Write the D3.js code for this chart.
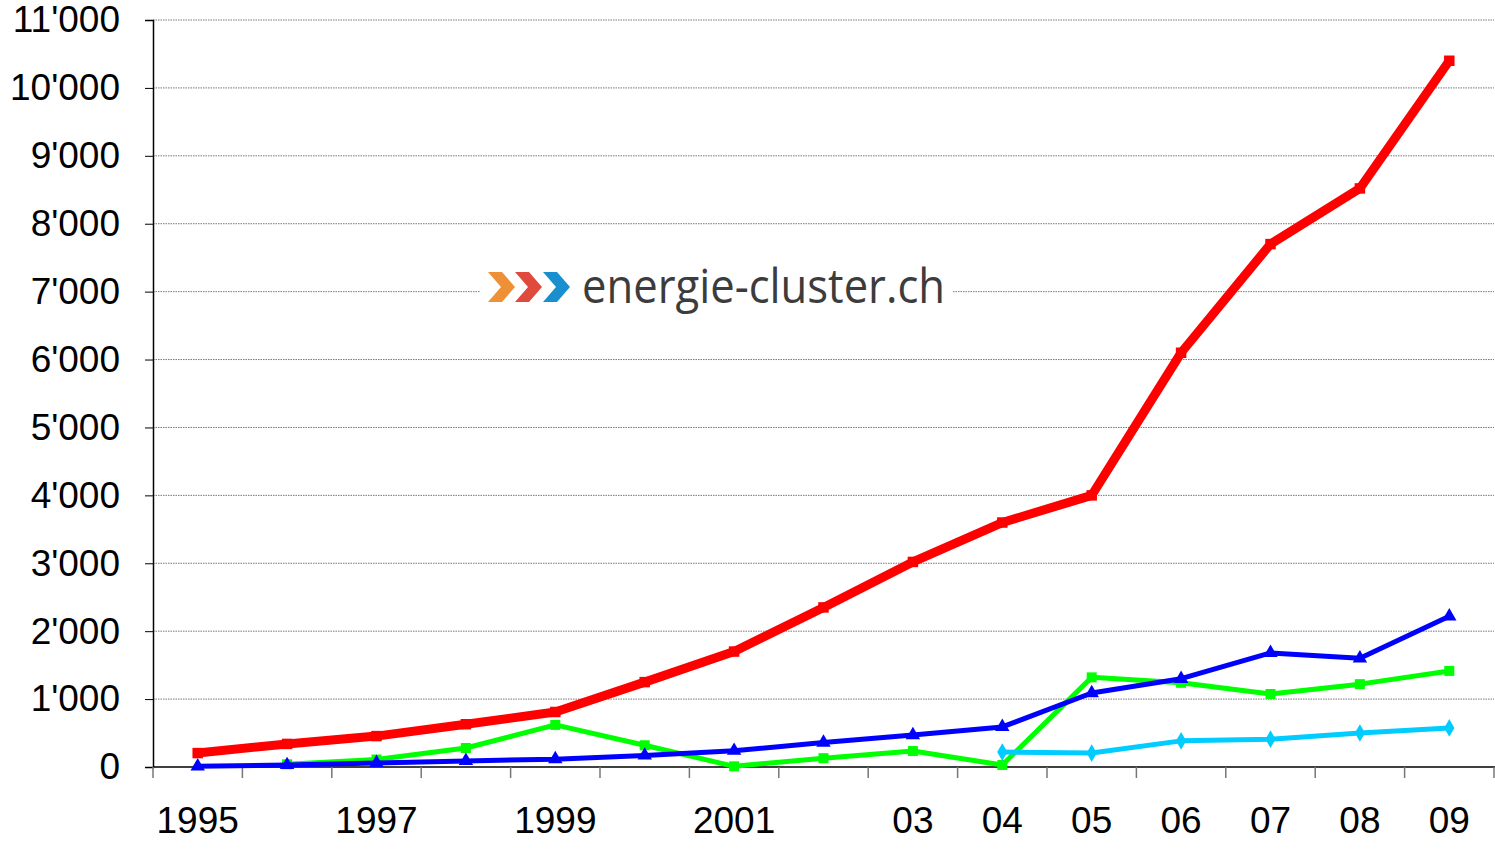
<!DOCTYPE html>
<html><head><meta charset="utf-8">
<script src="https://cdn.jsdelivr.net/npm/d3@7"></script>
<style>body{margin:0;background:#fff;} svg{display:block;}</style>
</head><body>
<svg id="c" width="1495" height="850"></svg>
<script>
const years = [1995,1996,1997,1998,1999,2000,2001,2002,2003,2004,2005,2006,2007,2008,2009];
const yearLabels = ["1995","","1997","","1999","","2001","","03","04","05","06","07","08","09"];
const yTicks = [0,1000,2000,3000,4000,5000,6000,7000,8000,9000,10000,11000];
const redValues   = [205,340,455,630,810,1250,1700,2350,3020,3600,4000,6100,7700,8520,10400];
const blueValues  = [10,30,60,90,115,170,240,360,470,590,1090,1300,1680,1600,2220];
const greenValues = [null,40,110,280,620,320,10,130,235,30,1320,1240,1075,1220,1415];
const cyanValues  = [null,null,null,null,null,null,null,null,null,220,205,385,410,500,575];

const svg = d3.select("#c");
const L = 153, R = 1494, T = 20, B = 767;
const x = d3.scaleBand().domain(years).range([L, R]);
const y = d3.scaleLinear().domain([0, 11000]).range([B, T]);
const fmt = v => d3.format(",")(v).replace(/,/g, "'");

// gridlines
svg.append("g").selectAll("line").data(yTicks.filter(d => d > 0)).join("line")
  .attr("x1", L).attr("x2", R).attr("y1", d => y(d)).attr("y2", d => y(d))
  .attr("stroke", "#777").attr("stroke-width", 1).attr("stroke-dasharray", "1.5,1");

// logo background + logo
const logo = svg.append("g");
logo.append("rect").attr("x", 480).attr("y", 262).attr("width", 472).attr("height", 58).attr("fill", "#fff");
const chev = (x0, col) => {
  const w = 27, h = 30, t = 14, yc = 287;
  logo.append("path")
    .attr("d", `M${x0},${yc-h/2} L${x0+t},${yc-h/2} L${x0+w},${yc} L${x0+t},${yc+h/2} L${x0},${yc+h/2} L${x0+w-t},${yc} Z`)
    .attr("fill", col);
};
chev(488, "#EE9035");
chev(515, "#E04A3C");
chev(543, "#1A8FD0");
logo.append("text").attr("x", 582).attr("y", 303).text("energie-cluster.ch")
  .attr("font-family", "Open Sans, sans-serif").attr("font-weight", 400)
  .attr("font-size", 48).attr("fill", "#3c3c3c")
  .attr("textLength", 363).attr("lengthAdjust", "spacingAndGlyphs");

// axes
const yAxis = svg.append("g").attr("transform", `translate(${L},0)`)
  .call(d3.axisLeft(y).tickValues(yTicks).tickFormat(fmt).tickSize(8).tickPadding(25));
yAxis.select(".domain").attr("stroke", "#000").attr("stroke-width", 1.5);
yAxis.selectAll(".tick line").attr("stroke", "#000");
yAxis.selectAll("text").attr("font-family", "Liberation Sans, Arial, sans-serif").attr("font-size", 37).attr("fill", "#000");

const xAxis = svg.append("g").attr("transform", `translate(0,${B})`)
  .call(d3.axisBottom(x).tickFormat((d, i) => yearLabels[i]).tickSize(0).tickPadding(40));
xAxis.select(".domain").remove();
xAxis.selectAll("text").attr("font-family", "Liberation Sans, Arial, sans-serif").attr("font-size", 37).attr("fill", "#000");
svg.append("line").attr("x1", L).attr("x2", R + 1).attr("y1", B).attr("y2", B).attr("stroke", "#000").attr("stroke-width", 1.5);
// category boundary ticks
svg.append("g").selectAll("line").data(years.concat(["end"])).join("line")
  .attr("x1", (d, i) => i < years.length ? x(d) : R).attr("x2", (d, i) => i < years.length ? x(d) : R)
  .attr("y1", B).attr("y2", B + 11).attr("stroke", "#777").attr("stroke-width", 1.5);

const cx = d => x(d) + x.bandwidth() / 2;
function series(vals, color, width, marker, msize) {
  const pts = years.map((yr, i) => ({yr, v: vals[i]})).filter(d => d.v != null);
  svg.append("path").datum(pts)
    .attr("d", d3.line().x(d => cx(d.yr)).y(d => y(d.v)))
    .attr("fill", "none").attr("stroke", color).attr("stroke-width", width).attr("stroke-linejoin", "round");
  svg.append("g").selectAll("path").data(pts).join("path")
    .attr("transform", d => `translate(${cx(d.yr)},${y(d.v)})`)
    .attr("d", d3.symbol().type(marker).size(msize))
    .attr("fill", color);
}
series(greenValues, "#00FF00", 5, d3.symbolSquare, 100);
series(blueValues, "#0000FF", 5, d3.symbolTriangle, 90);
series(cyanValues, "#00CCFF", 5, d3.symbolDiamond, 90);
series(redValues, "#FF0000", 9, d3.symbolSquare, 110);
</script>
</body></html>
